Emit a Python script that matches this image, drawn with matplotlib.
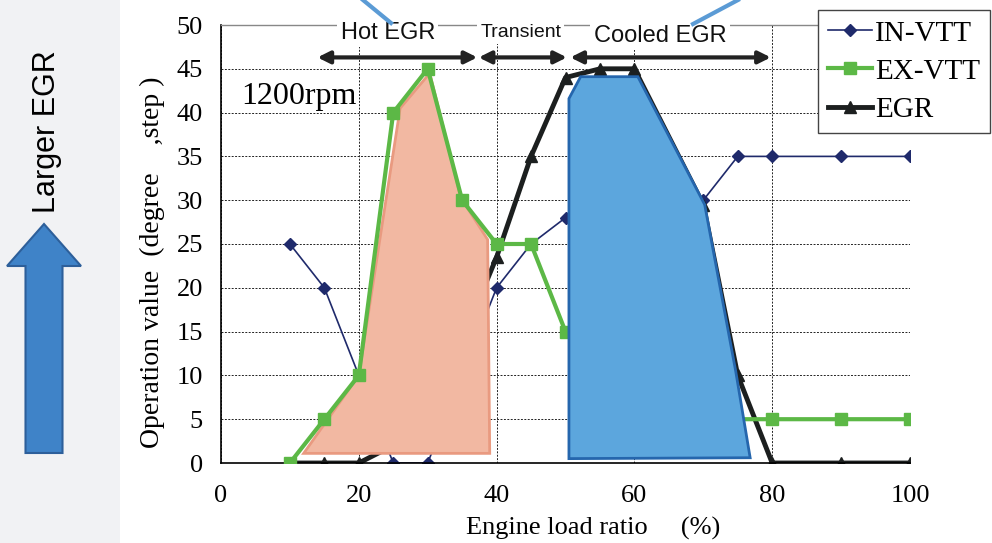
import matplotlib
matplotlib.use("Agg")
import matplotlib.pyplot as plt
from matplotlib.patches import Polygon, FancyArrow, Rectangle
from matplotlib.lines import Line2D

# series (hidden points under the fills are estimates)
in_x = [10, 15, 20, 25, 30, 40, 45, 50, 70, 75, 80, 90, 100]
in_y = [25, 20, 10, 0, 0, 20, 25, 28, 30, 35, 35, 35, 35]

ex_x = [10, 15, 20, 25, 30, 35, 40, 45, 50, 60, 70, 80, 90, 100]
ex_y = [0, 5, 10, 40, 45, 30, 25, 25, 15, 5, 5, 5, 5, 5]

egr_x = [10, 15, 20, 25, 30, 35, 40, 45, 50, 55, 60, 70, 75, 80, 90, 100]
egr_y = [0, 0, 0, 2, 6, 14, 23.5, 35, 44, 45, 45, 29.5, 10, 0, 0, 0]

# shaded regions
hot_x = [12, 39, 38.7, 34.8, 30.3, 26, 20]
hot_y = [1.1, 1.1, 25.5, 30.3, 44.5, 40.5, 10]
cool_x = [50.5, 50.5, 52.2, 60.5, 70.2, 74.7, 76.8]
cool_y = [0.5, 41.6, 44.1, 44.1, 29.5, 10.5, 0.6]

# region labels: (text, arrow start, arrow end, text x, text y, size)
regions = [
    ("Hot EGR", 14, 37.2, 24.2, 49.1, 17),
    ("Transient", 37.4, 50.2, 43.5, 49.1, 14),
    ("Cooled EGR", 50.7, 79.8, 63.7, 48.8, 17),
]

serif = "Liberation Serif"
sans = "Liberation Sans"

fig = plt.figure(figsize=(9.92, 5.43), dpi=100)
fig.patches.append(Rectangle((0, 0), 120 / 992, 1, transform=fig.transFigure,
                             facecolor="#f1f2f4", edgecolor="none", zorder=0))
ax = fig.add_axes([221 / 992, 80 / 543, 689 / 992, 438 / 543])

ax.plot(in_x, in_y, color="#1f2a6b", marker="D", markersize=6, linewidth=1.2, zorder=2)
ax.plot(egr_x, egr_y, color="#1c1f1f", marker="^", markersize=8, linewidth=3.5, zorder=2)
ax.add_patch(Polygon(list(zip(hot_x, hot_y)), closed=True, facecolor="#f2b8a2",
                     edgecolor="#e99a80", linewidth=2, zorder=3))
ax.plot(ex_x, ex_y, color="#5cb846", marker="s", markersize=8, linewidth=3, zorder=4)
ax.add_patch(Polygon(list(zip(cool_x, cool_y)), closed=True, facecolor="#5ca6dd",
                     edgecolor="#2566ad", linewidth=2, zorder=5))

for label, x0, x1, tx, ty, size in regions:
    ax.annotate("", xy=(x1, 46.3), xytext=(x0, 46.3),
                arrowprops=dict(arrowstyle="<|-|>", lw=3, color="#222222",
                                mutation_scale=18, shrinkA=0, shrinkB=0), zorder=6)
    ax.text(tx, ty, label, ha="center", va="center", fontsize=size, family=sans,
            color="#111111", zorder=7, clip_on=False,
            bbox=dict(boxstyle="square,pad=0.15", facecolor="white", edgecolor="none"))

ax.text(3, 41.8, "1200rpm", fontsize=23, family=serif, va="center", ha="left", zorder=7)

ax.set_xlim(0, 100)
ax.set_ylim(0, 50)
ax.set_xticks(range(0, 101, 20))
ax.set_yticks(range(0, 51, 5))
ax.grid(True, color="#222222", linestyle=(0, (2, 1.5)), linewidth=0.7, zorder=1)
ax.set_axisbelow(True)
ax.tick_params(length=0, labelsize=19)
ax.tick_params(axis="y", pad=13)
ax.tick_params(axis="x", pad=16)
for t in ax.get_xticklabels() + ax.get_yticklabels():
    t.set_family(serif)
ax.spines["right"].set_visible(False)
ax.spines["top"].set_color("#888888")
ax.spines["top"].set_linewidth(1)
ax.spines["left"].set_linewidth(1.2)
ax.spines["bottom"].set_linewidth(1.2)

fig.text(593 / 992, 1 - 528 / 543, "Engine load ratio     (%)", ha="center", va="center",
         fontsize=19, family=serif)
fig.text(152 / 992, 1 - 262 / 543, "Operation value  (degree    ,step )", ha="center",
         va="center", rotation=90, fontsize=20, family=serif)

# left-hand "Larger EGR" arrow
fig.text(47 / 992, 1 - 132 / 543, "Larger EGR", rotation=90, ha="center", va="center",
         fontsize=22, family=sans)
fig.patches.append(FancyArrow(44 / 992, 1 - 453 / 543, 0, (453 - 224) / 543, width=37 / 992,
                              head_width=74 / 992, head_length=42 / 543,
                              length_includes_head=True, transform=fig.transFigure,
                              facecolor="#3f83c8", edgecolor="#2d5f9a", linewidth=1.5))

# callout lines at the top edge
for (px0, py0), (px1, py1) in [((363, 0), (391, 23)), ((693, 24), (738, 0))]:
    fig.add_artist(Line2D([px0 / 992, px1 / 992], [1 - py0 / 543, 1 - py1 / 543],
                          transform=fig.transFigure, color="#5b9bd5", linewidth=3))

handles = [
    Line2D([], [], color="#1f2a6b", marker="D", markersize=6, linewidth=1.2),
    Line2D([], [], color="#5cb846", marker="s", markersize=8, linewidth=3),
    Line2D([], [], color="#1c1f1f", marker="^", markersize=8, linewidth=3.5),
]
leg = fig.legend(handles, ["IN-VTT", "EX-VTT", "EGR"], loc="upper right",
                 bbox_to_anchor=(990 / 992, 1 - 10 / 543), borderaxespad=0,
                 prop=dict(family=serif, size=21),
                 fancybox=False, edgecolor="#444444", framealpha=1, handlelength=1.5,
                 handletextpad=0.1, labelspacing=0.4, borderpad=0.35)
leg.get_frame().set_linewidth(1)

plt.savefig("out.png", dpi=100)
